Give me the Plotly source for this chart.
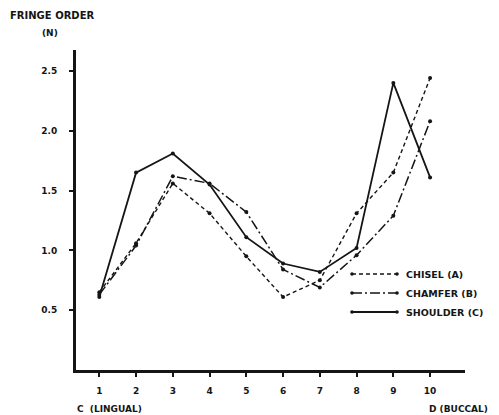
import plotly.graph_objects as go

x_pos = [1, 2, 3, 4, 5, 6, 7, 8, 9, 10]
chisel = [0.65, 1.06, 1.56, 1.31, 0.95, 0.61, 0.75, 1.31, 1.65, 2.44]
chamfer = [0.63, 1.04, 1.62, 1.56, 1.32, 0.84, 0.69, 0.96, 1.29, 2.08]
shoulder = [0.61, 1.65, 1.81, 1.55, 1.11, 0.89, 0.82, 1.02, 2.40, 1.61]
y_ticks = [0.5, 1.0, 1.5, 2.0, 2.5]
y_labels = ["0.5", "1.0", "1.5", "2.0", "2.5"]
x_labels = ["1", "2", "3", "4", "5", "6", "7", "8", "9", "10"]
series_names = ["CHISEL (A)", "CHAMFER (B)", "SHOULDER (C)"]

INK = "#151515"
FONT = "DejaVu Sans"

fig = go.Figure()
styles = [("4px,3px", 1.4), ("10px,3px,2px,3px", 1.5), ("solid", 1.8)]
for vals, name, (dash, w) in zip([chisel, chamfer, shoulder], series_names, styles):
    fig.add_trace(go.Scatter(
        x=x_pos, y=vals, mode="lines+markers", name=name,
        line=dict(color=INK, width=w, dash=dash),
        marker=dict(color=INK, size=4, symbol="circle"),
        showlegend=False,
    ))

# manual legend (paper coords)
W, H = 499, 415
L, R, T, B = 76, 34, 50, 45
pw, ph = W - L - R, H - T - B
def px(xp):
    return (xp - L) / pw
def py(yp):
    return (H - B - yp) / ph

rows = [274, 293, 312]
for (dash, w), name, yr in zip(styles, series_names, rows):
    fig.add_shape(type="line", xref="paper", yref="paper",
                  x0=px(352), x1=px(397), y0=py(yr), y1=py(yr),
                  line=dict(color=INK, width=w, dash=dash))
    for xe in (352, 397):
        fig.add_shape(type="circle", xref="paper", yref="paper",
                      x0=px(xe - 1.8), x1=px(xe + 1.8), y0=py(yr - 1.8), y1=py(yr + 1.8),
                      fillcolor=INK, line=dict(color=INK, width=0))
    fig.add_annotation(xref="paper", yref="paper", x=px(404), y=py(yr),
                       text=f"<b>{name}</b>",
                       showarrow=False, xanchor="left", yanchor="middle",
                       font=dict(family=FONT, size=9.5, color=INK))

# titles
fig.add_annotation(xref="paper", yref="paper", x=px(8), y=py(15), text="<b>FRINGE ORDER</b>",
                   showarrow=False, xanchor="left", yanchor="middle",
                   font=dict(family=FONT, size=10, color=INK))
fig.add_annotation(xref="paper", yref="paper", x=px(50), y=py(33), text="<b>(N)</b>",
                   showarrow=False, xanchor="center", yanchor="middle",
                   font=dict(family=FONT, size=9, color=INK))
fig.add_annotation(xref="paper", yref="paper", x=px(75), y=py(409), text="<b>C  (LINGUAL)</b>",
                   showarrow=False, xanchor="left", yanchor="middle",
                   font=dict(family=FONT, size=9, color=INK))
fig.add_annotation(xref="paper", yref="paper", x=px(490), y=py(409), text="<b>D (BUCCAL)</b>",
                   showarrow=False, xanchor="right", yanchor="middle",
                   font=dict(family=FONT, size=9, color=INK))

fig.update_layout(
    width=W, height=H,
    margin=dict(l=L, r=R, t=T, b=B),
    paper_bgcolor="white", plot_bgcolor="white",
    font=dict(family=FONT, size=9, color=INK),
    xaxis=dict(range=[0.366, 10.95], tickmode="array", tickvals=x_pos,
               ticktext=[f"<b>{t}</b>" for t in x_labels],
               showgrid=False, zeroline=False, showline=True, linewidth=3, linecolor=INK,
               ticks="outside", ticklen=4, tickwidth=1.5, tickcolor=INK, ticklabelstandoff=6),
    yaxis=dict(range=[0, 2.675], tickmode="array", tickvals=y_ticks,
               ticktext=[f"<b>{t}</b>" for t in y_labels],
               showgrid=False, zeroline=False, showline=True, linewidth=3, linecolor=INK,
               ticks="outside", ticklen=4, tickwidth=1.5, tickcolor=INK, ticklabelstandoff=10),
)

fig.write_html("out.html")
